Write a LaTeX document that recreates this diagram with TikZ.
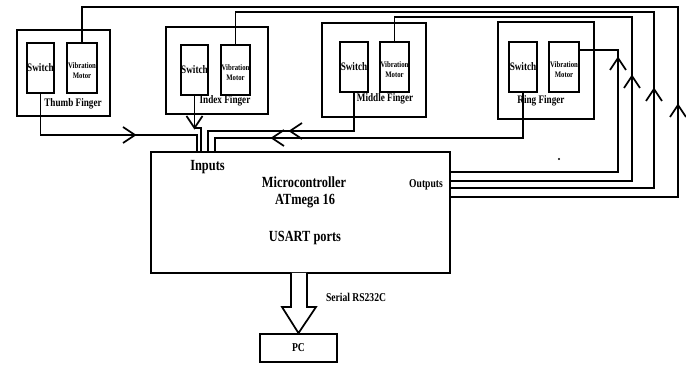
\documentclass[tikz,border=0pt]{standalone}
\usepackage{fontspec}
\setmainfont[FakeStretch=0.8]{Liberation Serif}
\usetikzlibrary{fit}
\newcommand\fsz[2]{\fontsize{#1}{#2}\selectfont}
\begin{document}
\begin{tikzpicture}[x=0.75pt,y=-0.75pt,line width=1.3pt,
  box/.style={draw,inner sep=0pt,line width=1.3pt},
  chev/.pic={\draw[line width=1.3pt] (-12,-8) -- (0,0) -- (-12,8);},
  swl/.style={font=\bfseries\fsz{8.6}{9},inner sep=0pt},
  mol/.style={font=\bfseries\fsz{6.3}{8},inner sep=0pt,align=center},
  fl/.style={font=\bfseries\fsz{8.6}{9},inner sep=0pt},
  bigl/.style={font=\bfseries\fsz{11.6}{13},inner sep=0pt},
  midl/.style={font=\bfseries\fsz{9}{10},inner sep=0pt}]
\useasboundingbox (0,0) rectangle (686,373);
% finger boxes
\node[box,fit={(17,30) (110,116)}] (thumb) {};
\node[box,fit={(27,43) (54,93)}] (thsw) {};
\node[box,fit={(67,43) (97,93)}] (thmo) {};
\node[box,fit={(166,27) (268,114)}] (index) {};
\node[box,fit={(181,45) (208,95)}] (insw) {};
\node[box,fit={(221,45) (250,95)}] (inmo) {};
\node[box,fit={(322,23) (426,117)}] (middle) {};
\node[box,fit={(340,42) (368,92)}] (misw) {};
\node[box,fit={(380,42) (409,92)}] (mimo) {};
\node[box,fit={(498,22) (594,119)}] (ring) {};
\node[box,fit={(509,42) (537,92)}] (risw) {};
\node[box,fit={(549,42) (579,92)}] (rimo) {};
\node[box,fit={(151,152) (450,273)}] (mcu) {};
\node[box,fit={(260,334) (337,362)}] (pc) {};
% input wires
\coordinate (a1) at (197,135);
\coordinate (a2) at (201,128);
\coordinate (a3) at (208,131);
\coordinate (a4) at (215,138);
\draw (thsw.south) |- (a1) -- (a1 |- mcu.north);
\draw (insw.south) |- (a2) -- (a2 |- mcu.north);
\draw (misw.south) |- (a3) -- (a3 |- mcu.north);
\draw (risw.south) |- (a4) -- (a4 |- mcu.north);
\pic at (135,135) {chev};
\pic[rotate=-90] at (194.5,128) {chev};
\pic[rotate=180] at (290,131) {chev};
\pic[rotate=180] at (272,138) {chev};
% output wires
\coordinate (b1) at (678,7);   \coordinate (b1e) at (678,197);
\coordinate (b2) at (654,12);  \coordinate (b2e) at (654,188);
\coordinate (b3) at (632,17);  \coordinate (b3e) at (632,181);
\coordinate (b4) at (618,50);  \coordinate (b4e) at (618,172);
\draw (thmo.north) |- (b1) -- (b1e) -- (b1e -| mcu.east);
\draw (inmo.north) |- (b2) -- (b2e) -- (b2e -| mcu.east);
\draw (mimo.north) |- (b3) -- (b3e) -- (b3e -| mcu.east);
\draw (b4 -| rimo.east) -- (b4) -- (b4e) -- (b4e -| mcu.east);
\pic[rotate=90] at (618,58) {chev};
\pic[rotate=90] at (632,76) {chev};
\pic[rotate=90] at (654,89) {chev};
\pic[rotate=90] at (678,105) {chev};
\fill (559,159) circle[radius=0.9pt];
% serial block arrow
\draw[fill=white,line join=miter] (291,273) -- (291,307) -- (282,307) -- (pc.north) -- (316,307) -- (307,307) -- (307,273);
% labels
\node[swl] (thswt) at (thsw) {Switch};
\node[swl] (inswt) at (insw) {Switch};
\node[swl] (miswt) at (misw) {Switch};
\node[swl] (riswt) at (risw) {Switch};
\node[mol] (thmot) at ([yshift=-2]thmo.center) {Vibration\\Motor};
\node[mol] (inmot) at ([yshift=-2]inmo.center) {Vibration\\Motor};
\node[mol] (mimot) at ([yshift=-2]mimo.center) {Vibration\\Motor};
\node[mol] (rimot) at ([yshift=-2]rimo.center) {Vibration\\Motor};
\node[fl] (thl) at (73,104) {Thumb Finger};
\node[fl] (inl) at (225,101) {Index Finger};
\node[fl] (mil) at (385,99) {Middle Finger};
\node[fl] (ril) at (541,101) {Ring Finger};
\node[bigl] (inp) at (207.5,167) {Inputs};
\node[bigl] (mc1) at (304,182) {Microcontroller};
\node[bigl] (mc2) at (305,201) {ATmega 16};
\node[bigl] (mc3) at (305,238) {USART ports};
\node[midl] (outp) at (426,185) {Outputs};
\node[midl] (ser) at (356,297) {Serial RS232C};
\node[midl] (pct) at (pc) {PC};
\end{tikzpicture}
\end{document}
